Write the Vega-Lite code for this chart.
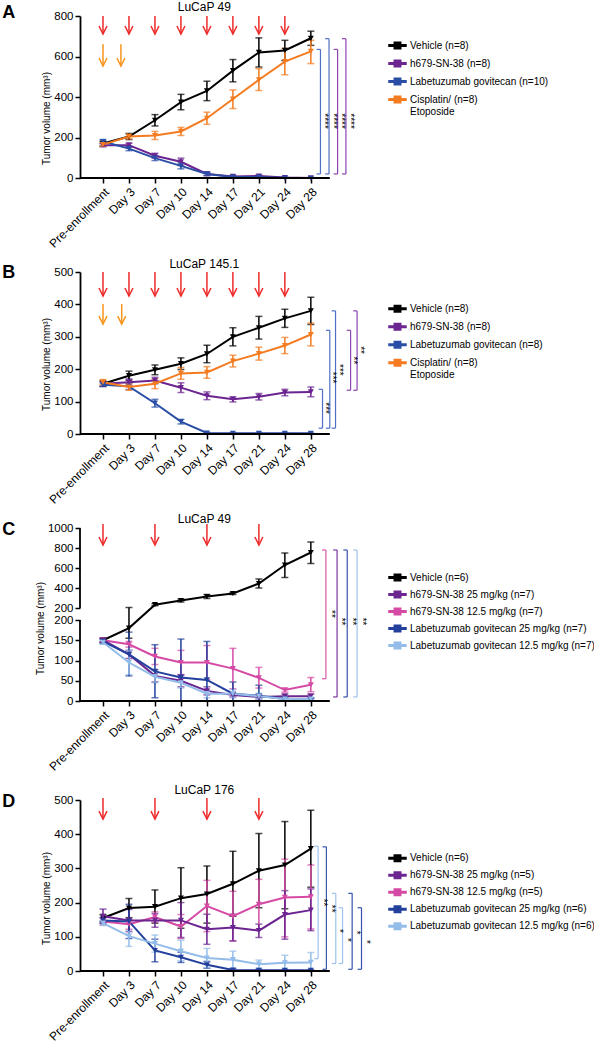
{
"$schema":"https://vega.github.io/schema/vega-lite/v6.json",
"padding":{"left":2,"top":0,"right":0,"bottom":0},
"config":{"font":"Liberation Sans","view":{"stroke":null},
 "axis":{"labelFontSize":11.5,"titleFontSize":10,"titleFontWeight":"normal","labelColor":"#000","titleColor":"#000","tickColor":"#000","domainColor":"#000","tickWidth":1.5,"domainWidth":1.8,"tickSize":5,"grid":false,"labelOverlap":false,"titlePadding":2},
 "legend":{"labelFontSize":10,"labelColor":"#000","labelLimit":300,"padding":0,"labelOffset":3,"symbolOpacity":1}},
"datasets":{
"sA":[
{"g":"Vehicle (n=8)","d":0,"m":170,"lo":158,"hi":182},{"g":"Vehicle (n=8)","d":1,"m":205,"lo":190,"hi":220},{"g":"Vehicle (n=8)","d":2,"m":285,"lo":257,"hi":313},{"g":"Vehicle (n=8)","d":3,"m":375,"lo":337,"hi":413},{"g":"Vehicle (n=8)","d":4,"m":430,"lo":382,"hi":478},{"g":"Vehicle (n=8)","d":5,"m":530,"lo":475,"hi":585},{"g":"Vehicle (n=8)","d":6,"m":620,"lo":548,"hi":692},{"g":"Vehicle (n=8)","d":7,"m":630,"lo":580,"hi":680},{"g":"Vehicle (n=8)","d":8,"m":690,"lo":655,"hi":725},
{"g":"h679-SN-38 (n=8)","d":0,"m":162,"lo":154,"hi":170},{"g":"h679-SN-38 (n=8)","d":1,"m":162,"lo":152,"hi":172},{"g":"h679-SN-38 (n=8)","d":2,"m":110,"lo":98,"hi":122},{"g":"h679-SN-38 (n=8)","d":3,"m":80,"lo":62,"hi":98},{"g":"h679-SN-38 (n=8)","d":4,"m":20,"lo":12,"hi":28},{"g":"h679-SN-38 (n=8)","d":5,"m":8,"lo":4,"hi":12},{"g":"h679-SN-38 (n=8)","d":6,"m":10,"lo":5,"hi":15},{"g":"h679-SN-38 (n=8)","d":7,"m":2,"lo":0,"hi":4},{"g":"h679-SN-38 (n=8)","d":8,"m":0,"lo":0,"hi":2},
{"g":"Labetuzumab govitecan (n=10)","d":0,"m":180,"lo":170,"hi":190},{"g":"Labetuzumab govitecan (n=10)","d":1,"m":145,"lo":135,"hi":155},{"g":"Labetuzumab govitecan (n=10)","d":2,"m":98,"lo":86,"hi":110},{"g":"Labetuzumab govitecan (n=10)","d":3,"m":60,"lo":45,"hi":75},{"g":"Labetuzumab govitecan (n=10)","d":4,"m":20,"lo":12,"hi":28},{"g":"Labetuzumab govitecan (n=10)","d":5,"m":5,"lo":2,"hi":8},{"g":"Labetuzumab govitecan (n=10)","d":6,"m":5,"lo":2,"hi":8},{"g":"Labetuzumab govitecan (n=10)","d":7,"m":0,"lo":0,"hi":2},{"g":"Labetuzumab govitecan (n=10)","d":8,"m":0,"lo":0,"hi":2},
{"g":"Cisplatin/ (n=8)|Etoposide","d":0,"m":165,"lo":157,"hi":173},{"g":"Cisplatin/ (n=8)|Etoposide","d":1,"m":205,"lo":193,"hi":217},{"g":"Cisplatin/ (n=8)|Etoposide","d":2,"m":210,"lo":190,"hi":230},{"g":"Cisplatin/ (n=8)|Etoposide","d":3,"m":230,"lo":210,"hi":250},{"g":"Cisplatin/ (n=8)|Etoposide","d":4,"m":295,"lo":265,"hi":325},{"g":"Cisplatin/ (n=8)|Etoposide","d":5,"m":390,"lo":343,"hi":435},{"g":"Cisplatin/ (n=8)|Etoposide","d":6,"m":485,"lo":432,"hi":540},{"g":"Cisplatin/ (n=8)|Etoposide","d":7,"m":575,"lo":510,"hi":640},{"g":"Cisplatin/ (n=8)|Etoposide","d":8,"m":625,"lo":565,"hi":680}],
"sB":[
{"g":"Vehicle (n=8)","d":0,"m":155,"lo":147,"hi":163},{"g":"Vehicle (n=8)","d":1,"m":180,"lo":166,"hi":194},{"g":"Vehicle (n=8)","d":2,"m":198,"lo":183,"hi":213},{"g":"Vehicle (n=8)","d":3,"m":217,"lo":199,"hi":235},{"g":"Vehicle (n=8)","d":4,"m":247,"lo":220,"hi":274},{"g":"Vehicle (n=8)","d":5,"m":300,"lo":272,"hi":328},{"g":"Vehicle (n=8)","d":6,"m":328,"lo":293,"hi":363},{"g":"Vehicle (n=8)","d":7,"m":357,"lo":329,"hi":385},{"g":"Vehicle (n=8)","d":8,"m":380,"lo":338,"hi":422},
{"g":"h679-SN-38 (n=8)","d":0,"m":155,"lo":147,"hi":163},{"g":"h679-SN-38 (n=8)","d":1,"m":160,"lo":150,"hi":170},{"g":"h679-SN-38 (n=8)","d":2,"m":165,"lo":155,"hi":175},{"g":"h679-SN-38 (n=8)","d":3,"m":143,"lo":128,"hi":158},{"g":"h679-SN-38 (n=8)","d":4,"m":118,"lo":106,"hi":130},{"g":"h679-SN-38 (n=8)","d":5,"m":107,"lo":99,"hi":115},{"g":"h679-SN-38 (n=8)","d":6,"m":115,"lo":105,"hi":125},{"g":"h679-SN-38 (n=8)","d":7,"m":128,"lo":118,"hi":138},{"g":"h679-SN-38 (n=8)","d":8,"m":130,"lo":115,"hi":145},
{"g":"Labetuzumab govitecan (n=8)","d":0,"m":152,"lo":147,"hi":157},{"g":"Labetuzumab govitecan (n=8)","d":1,"m":147,"lo":137,"hi":157},{"g":"Labetuzumab govitecan (n=8)","d":2,"m":95,"lo":83,"hi":107},{"g":"Labetuzumab govitecan (n=8)","d":3,"m":38,"lo":31,"hi":45},{"g":"Labetuzumab govitecan (n=8)","d":4,"m":3,"lo":1,"hi":5},{"g":"Labetuzumab govitecan (n=8)","d":5,"m":2,"lo":1,"hi":3},{"g":"Labetuzumab govitecan (n=8)","d":6,"m":2,"lo":1,"hi":3},{"g":"Labetuzumab govitecan (n=8)","d":7,"m":2,"lo":1,"hi":3},{"g":"Labetuzumab govitecan (n=8)","d":8,"m":2,"lo":1,"hi":3},
{"g":"Cisplatin/ (n=8)|Etoposide","d":0,"m":160,"lo":152,"hi":168},{"g":"Cisplatin/ (n=8)|Etoposide","d":1,"m":145,"lo":135,"hi":155},{"g":"Cisplatin/ (n=8)|Etoposide","d":2,"m":155,"lo":140,"hi":170},{"g":"Cisplatin/ (n=8)|Etoposide","d":3,"m":187,"lo":169,"hi":205},{"g":"Cisplatin/ (n=8)|Etoposide","d":4,"m":190,"lo":172,"hi":208},{"g":"Cisplatin/ (n=8)|Etoposide","d":5,"m":225,"lo":207,"hi":243},{"g":"Cisplatin/ (n=8)|Etoposide","d":6,"m":248,"lo":228,"hi":268},{"g":"Cisplatin/ (n=8)|Etoposide","d":7,"m":273,"lo":248,"hi":298},{"g":"Cisplatin/ (n=8)|Etoposide","d":8,"m":307,"lo":272,"hi":342}],
"sC":[
{"g":"Vehicle (n=6)","d":0,"m":150,"lo":145,"hi":155},{"g":"Vehicle (n=6)","d":1,"m":180,"lo":155,"hi":205},{"g":"Vehicle (n=6)","d":2,"m":233,"lo":223,"hi":243},{"g":"Vehicle (n=6)","d":3,"m":275,"lo":260,"hi":290},{"g":"Vehicle (n=6)","d":4,"m":315,"lo":295,"hi":335},{"g":"Vehicle (n=6)","d":5,"m":345,"lo":335,"hi":355},{"g":"Vehicle (n=6)","d":6,"m":445,"lo":400,"hi":490},{"g":"Vehicle (n=6)","d":7,"m":630,"lo":505,"hi":750},{"g":"Vehicle (n=6)","d":8,"m":755,"lo":645,"hi":860},
{"g":"h679-SN-38 12.5 mg/kg (n=7)","d":0,"m":150,"lo":145,"hi":155},{"g":"h679-SN-38 12.5 mg/kg (n=7)","d":1,"m":140,"lo":133,"hi":147},{"g":"h679-SN-38 12.5 mg/kg (n=7)","d":2,"m":110,"lo":90,"hi":130},{"g":"h679-SN-38 12.5 mg/kg (n=7)","d":3,"m":95,"lo":65,"hi":125},{"g":"h679-SN-38 12.5 mg/kg (n=7)","d":4,"m":95,"lo":53,"hi":137},{"g":"h679-SN-38 12.5 mg/kg (n=7)","d":5,"m":80,"lo":30,"hi":130},{"g":"h679-SN-38 12.5 mg/kg (n=7)","d":6,"m":57,"lo":32,"hi":83},{"g":"h679-SN-38 12.5 mg/kg (n=7)","d":7,"m":27,"lo":22,"hi":32},{"g":"h679-SN-38 12.5 mg/kg (n=7)","d":8,"m":40,"lo":23,"hi":58},
{"g":"h679-SN-38 25 mg/kg (n=7)","d":0,"m":150,"lo":145,"hi":155},{"g":"h679-SN-38 25 mg/kg (n=7)","d":1,"m":115,"lo":105,"hi":125},{"g":"h679-SN-38 25 mg/kg (n=7)","d":2,"m":62,"lo":47,"hi":77},{"g":"h679-SN-38 25 mg/kg (n=7)","d":3,"m":50,"lo":35,"hi":65},{"g":"h679-SN-38 25 mg/kg (n=7)","d":4,"m":25,"lo":15,"hi":35},{"g":"h679-SN-38 25 mg/kg (n=7)","d":5,"m":15,"lo":10,"hi":20},{"g":"h679-SN-38 25 mg/kg (n=7)","d":6,"m":10,"lo":5,"hi":15},{"g":"h679-SN-38 25 mg/kg (n=7)","d":7,"m":12,"lo":7,"hi":17},{"g":"h679-SN-38 25 mg/kg (n=7)","d":8,"m":12,"lo":7,"hi":17},
{"g":"Labetuzumab govitecan 25 mg/kg (n=7)","d":0,"m":147,"lo":142,"hi":152},{"g":"Labetuzumab govitecan 25 mg/kg (n=7)","d":1,"m":115,"lo":62,"hi":170},{"g":"Labetuzumab govitecan 25 mg/kg (n=7)","d":2,"m":73,"lo":8,"hi":139},{"g":"Labetuzumab govitecan 25 mg/kg (n=7)","d":3,"m":58,"lo":0,"hi":153},{"g":"Labetuzumab govitecan 25 mg/kg (n=7)","d":4,"m":52,"lo":0,"hi":147},{"g":"Labetuzumab govitecan 25 mg/kg (n=7)","d":5,"m":18,"lo":0,"hi":47},{"g":"Labetuzumab govitecan 25 mg/kg (n=7)","d":6,"m":13,"lo":0,"hi":39},{"g":"Labetuzumab govitecan 25 mg/kg (n=7)","d":7,"m":5,"lo":0,"hi":10},{"g":"Labetuzumab govitecan 25 mg/kg (n=7)","d":8,"m":3,"lo":0,"hi":6},
{"g":"Labetuzumab govitecan 12.5 mg/kg (n=7)","d":0,"m":145,"lo":140,"hi":150},{"g":"Labetuzumab govitecan 12.5 mg/kg (n=7)","d":1,"m":95,"lo":65,"hi":125},{"g":"Labetuzumab govitecan 12.5 mg/kg (n=7)","d":2,"m":60,"lo":45,"hi":75},{"g":"Labetuzumab govitecan 12.5 mg/kg (n=7)","d":3,"m":45,"lo":32,"hi":58},{"g":"Labetuzumab govitecan 12.5 mg/kg (n=7)","d":4,"m":18,"lo":8,"hi":28},{"g":"Labetuzumab govitecan 12.5 mg/kg (n=7)","d":5,"m":18,"lo":8,"hi":28},{"g":"Labetuzumab govitecan 12.5 mg/kg (n=7)","d":6,"m":12,"lo":5,"hi":19},{"g":"Labetuzumab govitecan 12.5 mg/kg (n=7)","d":7,"m":5,"lo":2,"hi":8},{"g":"Labetuzumab govitecan 12.5 mg/kg (n=7)","d":8,"m":5,"lo":2,"hi":8}],
"sD":[
{"g":"Vehicle (n=6)","d":0,"m":155,"lo":145,"hi":165},{"g":"Vehicle (n=6)","d":1,"m":184,"lo":156,"hi":212},{"g":"Vehicle (n=6)","d":2,"m":188,"lo":140,"hi":237},{"g":"Vehicle (n=6)","d":3,"m":213,"lo":125,"hi":302},{"g":"Vehicle (n=6)","d":4,"m":225,"lo":140,"hi":307},{"g":"Vehicle (n=6)","d":5,"m":255,"lo":160,"hi":350},{"g":"Vehicle (n=6)","d":6,"m":293,"lo":185,"hi":402},{"g":"Vehicle (n=6)","d":7,"m":310,"lo":182,"hi":437},{"g":"Vehicle (n=6)","d":8,"m":358,"lo":245,"hi":470},
{"g":"h679-SN-38 12.5 mg/kg (n=5)","d":0,"m":145,"lo":135,"hi":155},{"g":"h679-SN-38 12.5 mg/kg (n=5)","d":1,"m":137,"lo":122,"hi":152},{"g":"h679-SN-38 12.5 mg/kg (n=5)","d":2,"m":158,"lo":143,"hi":173},{"g":"h679-SN-38 12.5 mg/kg (n=5)","d":3,"m":130,"lo":95,"hi":165},{"g":"h679-SN-38 12.5 mg/kg (n=5)","d":4,"m":190,"lo":115,"hi":265},{"g":"h679-SN-38 12.5 mg/kg (n=5)","d":5,"m":160,"lo":88,"hi":233},{"g":"h679-SN-38 12.5 mg/kg (n=5)","d":6,"m":195,"lo":122,"hi":268},{"g":"h679-SN-38 12.5 mg/kg (n=5)","d":7,"m":215,"lo":100,"hi":327},{"g":"h679-SN-38 12.5 mg/kg (n=5)","d":8,"m":217,"lo":123,"hi":310},
{"g":"h679-SN-38 25 mg/kg (n=5)","d":0,"m":160,"lo":140,"hi":181},{"g":"h679-SN-38 25 mg/kg (n=5)","d":1,"m":148,"lo":115,"hi":180},{"g":"h679-SN-38 25 mg/kg (n=5)","d":2,"m":148,"lo":128,"hi":168},{"g":"h679-SN-38 25 mg/kg (n=5)","d":3,"m":148,"lo":98,"hi":200},{"g":"h679-SN-38 25 mg/kg (n=5)","d":4,"m":122,"lo":78,"hi":166},{"g":"h679-SN-38 25 mg/kg (n=5)","d":5,"m":127,"lo":88,"hi":166},{"g":"h679-SN-38 25 mg/kg (n=5)","d":6,"m":118,"lo":98,"hi":137},{"g":"h679-SN-38 25 mg/kg (n=5)","d":7,"m":165,"lo":93,"hi":235},{"g":"h679-SN-38 25 mg/kg (n=5)","d":8,"m":178,"lo":118,"hi":240},
{"g":"Labetuzumab govitecan 25 mg/kg (n=6)","d":0,"m":148,"lo":140,"hi":156},{"g":"Labetuzumab govitecan 25 mg/kg (n=6)","d":1,"m":145,"lo":95,"hi":195},{"g":"Labetuzumab govitecan 25 mg/kg (n=6)","d":2,"m":60,"lo":27,"hi":93},{"g":"Labetuzumab govitecan 25 mg/kg (n=6)","d":3,"m":40,"lo":25,"hi":55},{"g":"Labetuzumab govitecan 25 mg/kg (n=6)","d":4,"m":18,"lo":8,"hi":28},{"g":"Labetuzumab govitecan 25 mg/kg (n=6)","d":5,"m":3,"lo":0,"hi":6},{"g":"Labetuzumab govitecan 25 mg/kg (n=6)","d":6,"m":2,"lo":0,"hi":4},{"g":"Labetuzumab govitecan 25 mg/kg (n=6)","d":7,"m":2,"lo":0,"hi":4},{"g":"Labetuzumab govitecan 25 mg/kg (n=6)","d":8,"m":2,"lo":0,"hi":4},
{"g":"Labetuzumab govitecan 12.5 mg/kg (n=6)","d":0,"m":140,"lo":133,"hi":147},{"g":"Labetuzumab govitecan 12.5 mg/kg (n=6)","d":1,"m":102,"lo":72,"hi":118},{"g":"Labetuzumab govitecan 12.5 mg/kg (n=6)","d":2,"m":80,"lo":55,"hi":105},{"g":"Labetuzumab govitecan 12.5 mg/kg (n=6)","d":3,"m":58,"lo":30,"hi":90},{"g":"Labetuzumab govitecan 12.5 mg/kg (n=6)","d":4,"m":38,"lo":10,"hi":66},{"g":"Labetuzumab govitecan 12.5 mg/kg (n=6)","d":5,"m":33,"lo":8,"hi":58},{"g":"Labetuzumab govitecan 12.5 mg/kg (n=6)","d":6,"m":20,"lo":8,"hi":32},{"g":"Labetuzumab govitecan 12.5 mg/kg (n=6)","d":7,"m":24,"lo":4,"hi":46},{"g":"Labetuzumab govitecan 12.5 mg/kg (n=6)","d":8,"m":25,"lo":0,"hi":54}],
"bA":[{"x":8.37,"xl":8.22,"top":635,"bot":20,"vs":"Labet","lx":8.5,"ly":281,"stars":"****"},{"x":8.7,"xl":8.55,"top":688,"bot":20,"vs":"Labet","lx":8.86,"ly":281,"stars":"****"},{"x":9.03,"xl":8.88,"top":635,"bot":20,"vs":"h679","lx":9.18,"ly":281,"stars":"****"},{"x":9.35,"xl":9.2,"top":688,"bot":20,"vs":"h679","lx":9.5,"ly":281,"stars":"****"}],
"bB":[{"x":8.45,"xl":8.3,"top":138,"bot":18,"vs":"Labet","lx":8.54,"ly":80,"stars":"***"},{"x":8.73,"xl":8.58,"top":320,"bot":18,"vs":"Labet","lx":8.82,"ly":174,"stars":"***"},{"x":8.95,"xl":8.8,"top":380,"bot":18,"vs":"Labet","lx":9.08,"ly":198,"stars":"***"},{"x":9.53,"xl":9.38,"top":320,"bot":135,"vs":"h679","lx":9.63,"ly":227,"stars":"**"},{"x":9.78,"xl":9.63,"top":380,"bot":135,"vs":"h679","lx":9.91,"ly":259,"stars":"**"}],
"bC":[{"x":8.58,"xl":8.43,"top":780,"bot":55,"vs":"h679 12.5","lx":8.77,"ly":200.00005,"stars":"**"},{"x":9.01,"xl":8.86,"top":780,"bot":10,"vs":"h679 25","lx":9.18,"ly":196,"stars":"**"},{"x":9.4,"xl":9.25,"top":780,"bot":10,"vs":"Labet 25","lx":9.57,"ly":196,"stars":"**"},{"x":9.78,"xl":9.63,"top":780,"bot":10,"vs":"Labet 12.5","lx":9.95,"ly":196,"stars":"**"}],
"bD":[{"x":8.28,"xl":8.13,"top":365,"bot":36,"vs":"Labet 12.5","lx":8.45,"ly":200,"stars":"**"},{"x":8.6,"xl":8.45,"top":363,"bot":5,"vs":"Labet 25","lx":8.77,"ly":182,"stars":"**"},{"x":8.96,"xl":8.81,"top":227,"bot":22,"vs":"Labet 12.5","lx":9.09,"ly":117,"stars":"*"},{"x":9.22,"xl":9.07,"top":185,"bot":22,"vs":"Labet 12.5","lx":9.4,"ly":91,"stars":"*"},{"x":9.59,"xl":9.44,"top":227,"bot":5,"vs":"Labet 25","lx":9.73,"ly":112,"stars":"*"},{"x":9.95,"xl":9.8,"top":185,"bot":5,"vs":"Labet 25","lx":10.12,"ly":85,"stars":"*"}],
"aA":[{"d":0,"top":800,"tip":711,"drug":"ADC"},{"d":1,"top":800,"tip":711,"drug":"ADC"},{"d":2,"top":800,"tip":711,"drug":"ADC"},{"d":3,"top":800,"tip":711,"drug":"ADC"},{"d":4,"top":800,"tip":711,"drug":"ADC"},{"d":5,"top":800,"tip":711,"drug":"ADC"},{"d":6,"top":800,"tip":711,"drug":"ADC"},{"d":7,"top":800,"tip":711,"drug":"ADC"},{"d":0,"top":660,"tip":553,"drug":"Cis"},{"d":0.69,"top":660,"tip":553,"drug":"Cis"}],
"aB":[{"d":0,"top":500,"tip":426,"drug":"ADC"},{"d":1,"top":500,"tip":426,"drug":"ADC"},{"d":2,"top":500,"tip":426,"drug":"ADC"},{"d":3,"top":500,"tip":426,"drug":"ADC"},{"d":4,"top":500,"tip":426,"drug":"ADC"},{"d":5,"top":500,"tip":426,"drug":"ADC"},{"d":6,"top":500,"tip":426,"drug":"ADC"},{"d":7,"top":500,"tip":426,"drug":"ADC"},{"d":0,"top":401,"tip":339,"drug":"Cis"},{"d":0.72,"top":401,"tip":339,"drug":"Cis"}],
"aC":[{"d":0,"top":1040,"tip":830,"drug":"ADC"},{"d":2,"top":1040,"tip":830,"drug":"ADC"},{"d":4,"top":1040,"tip":830,"drug":"ADC"},{"d":6,"top":1040,"tip":830,"drug":"ADC"}],
"aD":[{"d":0,"top":506,"tip":444,"drug":"ADC"},{"d":2,"top":506,"tip":444,"drug":"ADC"},{"d":4,"top":506,"tip":444,"drug":"ADC"},{"d":6,"top":506,"tip":444,"drug":"ADC"}]
},
"spacing":94,
"bounds":"flush",
"resolve":{"scale":{"x":"independent","y":"independent","color":"independent","stroke":"independent"},"legend":{"color":"independent"},"axis":{"x":"independent","y":"independent"}},
"vconcat":[
{"width":288,"height":162,"layer":[
 {"data":{"name":"bA"},"mark":{"type":"rule","strokeWidth":1.2},"encoding":{
   "x":{"field":"x","type":"quantitative","scale":{"domain":[-0.885,10.2],"nice":false,"zero":false},"axis":{"values":[0,1,2,3,4,5,6,7,8],"tickCount":50,"labelExpr":"['Pre-enrollment','Day 3','Day 7','Day 10','Day 14','Day 17','Day 21','Day 24','Day 28'][datum.value]","labelAngle":-45,"domain":false,"title":null,"labelPadding":3,"labelOverlap":false,"labelFontSize":12}},
   "y":{"field":"top","type":"quantitative","scale":{"domain":[0,800],"nice":false,"zero":false},"axis":{"values":[0,200,400,600,800],"tickCount":50,"title":"Tumor volume (mm³)","titleY":102,"labelOverlap":false}},
   "y2":{"field":"bot"},
   "stroke":{"field":"vs","type":"nominal","scale":{"domain":["Labet","h679","ADC","Cis"],"range":["#4f6fc6","#8b44b0","#ee2a2a","#f7941d"]},"legend":null}}},
 {"data":{"name":"bA"},"mark":{"type":"rule","strokeWidth":1.2},"encoding":{"x":{"field":"xl","type":"quantitative"},"x2":{"field":"x"},"y":{"field":"top","type":"quantitative"},"stroke":{"field":"vs","type":"nominal","legend":null}}},
 {"data":{"name":"bA"},"mark":{"type":"rule","strokeWidth":1.2},"encoding":{"x":{"field":"xl","type":"quantitative"},"x2":{"field":"x"},"y":{"field":"bot","type":"quantitative"},"stroke":{"field":"vs","type":"nominal","legend":null}}},
 {"data":{"name":"bA"},"mark":{"type":"text","angle":90,"fontSize":10,"color":"#000","align":"center","baseline":"middle"},"encoding":{"x":{"field":"lx","type":"quantitative"},"y":{"field":"ly","type":"quantitative"},"text":{"field":"stars"}}},
 {"data":{"name":"aA"},"mark":{"type":"rule","strokeWidth":1.5},"encoding":{"x":{"field":"d","type":"quantitative"},"y":{"field":"top","type":"quantitative"},"y2":{"field":"tip"},"stroke":{"field":"drug","type":"nominal","legend":null}}},
 {"data":{"name":"aA"},"mark":{"type":"point","shape":"M-1,-2L0,0L1,-2","size":64,"filled":false,"strokeWidth":1.5,"opacity":1},"encoding":{"x":{"field":"d","type":"quantitative"},"y":{"field":"tip","type":"quantitative"},"stroke":{"field":"drug","type":"nominal","legend":null}}},
 {"data":{"name":"sA"},"mark":{"type":"errorbar","ticks":true,"size":7,"thickness":1.5},"encoding":{"x":{"field":"d","type":"quantitative","title":null},"y":{"field":"lo","type":"quantitative","title":"Tumor volume (mm³)"},"y2":{"field":"hi"},"color":{"field":"g","type":"nominal","scale":{"domain":["Vehicle (n=8)","h679-SN-38 (n=8)","Labetuzumab govitecan (n=10)","Cisplatin/ (n=8)|Etoposide"],"range":["#000000","#6b2490","#2a4ea6","#f47b20"]}}}},
 {"data":{"name":"sA"},"mark":{"type":"line","strokeWidth":2},"encoding":{"x":{"field":"d","type":"quantitative"},"y":{"field":"m","type":"quantitative"},"color":{"field":"g","type":"nominal"}}},
 {"data":{"name":"sA"},"mark":{"type":"point","shape":"triangle-down","size":36,"filled":true,"opacity":1},"encoding":{"x":{"field":"d","type":"quantitative"},"y":{"field":"m","type":"quantitative"},"color":{"field":"g","type":"nominal","legend":{"orient":"none","legendX":308,"legendY":20,"title":null,"symbolType":"M-1,-0.09H1V0.09H-1Z M-0.38,-0.38H0.38V0.38H-0.38Z","symbolSize":289,"rowPadding":2,"labelExpr":"split(datum.label,'|')"}}}},
 {"data":{"values":[{}]},"mark":{"type":"rule","strokeWidth":1.8,"color":"#000"},"encoding":{"x":{"datum":-0.885,"type":"quantitative"},"x2":{"datum":8.73},"y":{"datum":0,"type":"quantitative"}}},
 {"data":{"values":[{}]},"mark":{"type":"text","fontSize":12,"align":"center","baseline":"alphabetic","color":"#000"},"encoding":{"x":{"datum":3.9,"type":"quantitative"},"y":{"datum":825,"type":"quantitative"},"text":{"value":"LuCaP 49"}}},
 {"data":{"values":[{}]},"mark":{"type":"text","fontSize":18,"fontWeight":"bold","align":"left","baseline":"alphabetic","color":"#000"},"encoding":{"x":{"datum":-3.88,"type":"quantitative"},"y":{"datum":790,"type":"quantitative"},"text":{"value":"A"}}}
]},
{"width":288,"height":162,"layer":[
 {"data":{"name":"bB"},"mark":{"type":"rule","strokeWidth":1.2},"encoding":{
   "x":{"field":"x","type":"quantitative","scale":{"domain":[-0.885,10.2],"nice":false,"zero":false},"axis":{"values":[0,1,2,3,4,5,6,7,8],"tickCount":50,"labelExpr":"['Pre-enrollment','Day 3','Day 7','Day 10','Day 14','Day 17','Day 21','Day 24','Day 28'][datum.value]","labelAngle":-45,"domain":false,"title":null,"labelPadding":3,"labelOverlap":false,"labelFontSize":12}},
   "y":{"field":"top","type":"quantitative","scale":{"domain":[0,500],"nice":false,"zero":false},"axis":{"values":[0,100,200,300,400,500],"tickCount":50,"title":"Tumor volume (mm³)","titleY":92,"labelOverlap":false}},
   "y2":{"field":"bot"},
   "stroke":{"field":"vs","type":"nominal","scale":{"domain":["Labet","h679","ADC","Cis"],"range":["#4f6fc6","#8b44b0","#ee2a2a","#f7941d"]},"legend":null}}},
 {"data":{"name":"bB"},"mark":{"type":"rule","strokeWidth":1.2},"encoding":{"x":{"field":"xl","type":"quantitative"},"x2":{"field":"x"},"y":{"field":"top","type":"quantitative"},"stroke":{"field":"vs","type":"nominal","legend":null}}},
 {"data":{"name":"bB"},"mark":{"type":"rule","strokeWidth":1.2},"encoding":{"x":{"field":"xl","type":"quantitative"},"x2":{"field":"x"},"y":{"field":"bot","type":"quantitative"},"stroke":{"field":"vs","type":"nominal","legend":null}}},
 {"data":{"name":"bB"},"mark":{"type":"text","angle":90,"fontSize":10,"color":"#000","align":"center","baseline":"middle"},"encoding":{"x":{"field":"lx","type":"quantitative"},"y":{"field":"ly","type":"quantitative"},"text":{"field":"stars"}}},
 {"data":{"name":"aB"},"mark":{"type":"rule","strokeWidth":1.5},"encoding":{"x":{"field":"d","type":"quantitative"},"y":{"field":"top","type":"quantitative"},"y2":{"field":"tip"},"stroke":{"field":"drug","type":"nominal","legend":null}}},
 {"data":{"name":"aB"},"mark":{"type":"point","shape":"M-1,-2L0,0L1,-2","size":64,"filled":false,"strokeWidth":1.5,"opacity":1},"encoding":{"x":{"field":"d","type":"quantitative"},"y":{"field":"tip","type":"quantitative"},"stroke":{"field":"drug","type":"nominal","legend":null}}},
 {"data":{"name":"sB"},"mark":{"type":"errorbar","ticks":true,"size":7,"thickness":1.5},"encoding":{"x":{"field":"d","type":"quantitative","title":null},"y":{"field":"lo","type":"quantitative","title":"Tumor volume (mm³)"},"y2":{"field":"hi"},"color":{"field":"g","type":"nominal","scale":{"domain":["Vehicle (n=8)","h679-SN-38 (n=8)","Labetuzumab govitecan (n=8)","Cisplatin/ (n=8)|Etoposide"],"range":["#000000","#6b2490","#2a4ea6","#f47b20"]}}}},
 {"data":{"name":"sB"},"mark":{"type":"line","strokeWidth":2},"encoding":{"x":{"field":"d","type":"quantitative"},"y":{"field":"m","type":"quantitative"},"color":{"field":"g","type":"nominal"}}},
 {"data":{"name":"sB"},"mark":{"type":"point","shape":"triangle-down","size":36,"filled":true,"opacity":1},"encoding":{"x":{"field":"d","type":"quantitative"},"y":{"field":"m","type":"quantitative"},"color":{"field":"g","type":"nominal","legend":{"orient":"none","legendX":308,"legendY":27.3,"title":null,"symbolType":"M-1,-0.09H1V0.09H-1Z M-0.38,-0.38H0.38V0.38H-0.38Z","symbolSize":289,"rowPadding":2,"labelExpr":"split(datum.label,'|')"}}}},
 {"data":{"values":[{}]},"mark":{"type":"rule","strokeWidth":1.8,"color":"#000"},"encoding":{"x":{"datum":-0.885,"type":"quantitative"},"x2":{"datum":8.73},"y":{"datum":0,"type":"quantitative"}}},
 {"data":{"values":[{}]},"mark":{"type":"text","fontSize":12,"align":"center","baseline":"alphabetic","color":"#000"},"encoding":{"x":{"datum":3.9,"type":"quantitative"},"y":{"datum":512,"type":"quantitative"},"text":{"value":"LuCaP 145.1"}}},
 {"data":{"values":[{}]},"mark":{"type":"text","fontSize":18,"fontWeight":"bold","align":"left","baseline":"alphabetic","color":"#000"},"encoding":{"x":{"datum":-3.88,"type":"quantitative"},"y":{"datum":482,"type":"quantitative"},"text":{"value":"B"}}}
]},
{"width":288,"height":173,"layer":[
 {"data":{"name":"bC"},"mark":{"type":"rule","strokeWidth":1.2},"encoding":{
   "x":{"field":"x","type":"quantitative","scale":{"domain":[-0.885,10.2],"nice":false,"zero":false},"axis":{"values":[0,1,2,3,4,5,6,7,8],"tickCount":50,"labelExpr":"['Pre-enrollment','Day 3','Day 7','Day 10','Day 14','Day 17','Day 21','Day 24','Day 28'][datum.value]","labelAngle":-45,"domain":false,"title":null,"labelPadding":3,"labelOverlap":false,"labelFontSize":12}},
   "y":{"field":"top","type":"quantitative","scale":{"domain":[0,200,200.0001,1000],"range":[173,92,80,0],"nice":false,"zero":false},"axis":{"values":[0,50,100,150,200,200.0001,400,600,800,1000],"tickCount":50,"format":"d","domain":false,"title":"Tumor volume (mm³)","titleY":100,"labelOverlap":false}},
   "y2":{"field":"bot"},
   "stroke":{"field":"vs","type":"nominal","scale":{"domain":["h679 12.5","h679 25","Labet 25","Labet 12.5","ADC"],"range":["#d957a8","#7d35a0","#3553ad","#9fc3ec","#ee2a2a"]},"legend":null}}},
 {"data":{"name":"bC"},"mark":{"type":"rule","strokeWidth":1.2},"encoding":{"x":{"field":"xl","type":"quantitative"},"x2":{"field":"x"},"y":{"field":"top","type":"quantitative"},"stroke":{"field":"vs","type":"nominal","legend":null}}},
 {"data":{"name":"bC"},"mark":{"type":"rule","strokeWidth":1.2},"encoding":{"x":{"field":"xl","type":"quantitative"},"x2":{"field":"x"},"y":{"field":"bot","type":"quantitative"},"stroke":{"field":"vs","type":"nominal","legend":null}}},
 {"data":{"name":"bC"},"mark":{"type":"text","angle":90,"fontSize":10,"color":"#000","align":"center","baseline":"middle"},"encoding":{"x":{"field":"lx","type":"quantitative"},"y":{"field":"ly","type":"quantitative"},"text":{"field":"stars"}}},
 {"data":{"name":"aC"},"mark":{"type":"rule","strokeWidth":1.5},"encoding":{"x":{"field":"d","type":"quantitative"},"y":{"field":"top","type":"quantitative"},"y2":{"field":"tip"},"stroke":{"field":"drug","type":"nominal","legend":null}}},
 {"data":{"name":"aC"},"mark":{"type":"point","shape":"M-1,-2L0,0L1,-2","size":64,"filled":false,"strokeWidth":1.5,"opacity":1},"encoding":{"x":{"field":"d","type":"quantitative"},"y":{"field":"tip","type":"quantitative"},"stroke":{"field":"drug","type":"nominal","legend":null}}},
 {"data":{"name":"sC"},"mark":{"type":"errorbar","ticks":true,"size":7,"thickness":1.5},"encoding":{"x":{"field":"d","type":"quantitative","title":null},"y":{"field":"lo","type":"quantitative","title":"Tumor volume (mm³)"},"y2":{"field":"hi"},"color":{"field":"g","type":"nominal","scale":{"domain":["Vehicle (n=6)","h679-SN-38 25 mg/kg (n=7)","h679-SN-38 12.5 mg/kg (n=7)","Labetuzumab govitecan 25 mg/kg (n=7)","Labetuzumab govitecan 12.5 mg/kg (n=7)"],"range":["#000000","#6b2490","#d54aa5","#22409c","#93bce9"]}}}},
 {"data":{"name":"sC"},"mark":{"type":"line","strokeWidth":2},"encoding":{"x":{"field":"d","type":"quantitative"},"y":{"field":"m","type":"quantitative"},"color":{"field":"g","type":"nominal"}}},
 {"data":{"name":"sC"},"mark":{"type":"point","shape":"triangle-down","size":36,"filled":true,"opacity":1},"encoding":{"x":{"field":"d","type":"quantitative"},"y":{"field":"m","type":"quantitative"},"color":{"field":"g","type":"nominal","legend":{"orient":"none","legendX":308,"legendY":40,"title":null,"symbolType":"M-1,-0.09H1V0.09H-1Z M-0.38,-0.38H0.38V0.38H-0.38Z","symbolSize":289,"rowPadding":1}}}},
 {"data":{"values":[{}]},"mark":{"type":"rule","strokeWidth":1.8,"color":"#000"},"encoding":{"x":{"datum":-0.885,"type":"quantitative"},"x2":{"datum":8.73},"y":{"datum":0,"type":"quantitative"}}},
 {"data":{"values":[{}]},"mark":{"type":"rule","strokeWidth":1.8,"color":"#000"},"encoding":{"x":{"datum":-0.885,"type":"quantitative"},"y":{"datum":0,"type":"quantitative"},"y2":{"datum":200}}},
 {"data":{"values":[{}]},"mark":{"type":"rule","strokeWidth":1.8,"color":"#000"},"encoding":{"x":{"datum":-0.885,"type":"quantitative"},"y":{"datum":200.0001,"type":"quantitative"},"y2":{"datum":1000}}},
 {"data":{"values":[{}]},"mark":{"type":"text","fontSize":12,"align":"center","baseline":"alphabetic","color":"#000"},"encoding":{"x":{"datum":3.9,"type":"quantitative"},"y":{"datum":1050,"type":"quantitative"},"text":{"value":"LuCaP 49"}}},
 {"data":{"values":[{}]},"mark":{"type":"text","fontSize":18,"fontWeight":"bold","align":"left","baseline":"alphabetic","color":"#000"},"encoding":{"x":{"datum":-3.88,"type":"quantitative"},"y":{"datum":930,"type":"quantitative"},"text":{"value":"C"}}}
]},
{"width":288,"height":176,"layer":[
 {"data":{"name":"bD"},"mark":{"type":"rule","strokeWidth":1.2},"encoding":{
   "x":{"field":"x","type":"quantitative","scale":{"domain":[-0.885,10.2],"nice":false,"zero":false},"axis":{"values":[0,1,2,3,4,5,6,7,8],"tickCount":50,"labelExpr":"['Pre-enrollment','Day 3','Day 7','Day 10','Day 14','Day 17','Day 21','Day 24','Day 28'][datum.value]","labelAngle":-45,"domain":false,"title":null,"labelPadding":3,"labelOverlap":false,"labelFontSize":12}},
   "y":{"field":"top","type":"quantitative","scale":{"domain":[0,500],"range":[176,5],"nice":false,"zero":false},"axis":{"values":[0,100,200,300,400,500],"tickCount":50,"title":"Tumor volume (mm³)","titleY":103,"labelOverlap":false}},
   "y2":{"field":"bot"},
   "stroke":{"field":"vs","type":"nominal","scale":{"domain":["Labet 12.5","Labet 25","ADC"],"range":["#9fc3ec","#3553ad","#ee2a2a"]},"legend":null}}},
 {"data":{"name":"bD"},"mark":{"type":"rule","strokeWidth":1.2},"encoding":{"x":{"field":"xl","type":"quantitative"},"x2":{"field":"x"},"y":{"field":"top","type":"quantitative"},"stroke":{"field":"vs","type":"nominal","legend":null}}},
 {"data":{"name":"bD"},"mark":{"type":"rule","strokeWidth":1.2},"encoding":{"x":{"field":"xl","type":"quantitative"},"x2":{"field":"x"},"y":{"field":"bot","type":"quantitative"},"stroke":{"field":"vs","type":"nominal","legend":null}}},
 {"data":{"name":"bD"},"mark":{"type":"text","angle":90,"fontSize":10,"color":"#000","align":"center","baseline":"middle"},"encoding":{"x":{"field":"lx","type":"quantitative"},"y":{"field":"ly","type":"quantitative"},"text":{"field":"stars"}}},
 {"data":{"name":"aD"},"mark":{"type":"rule","strokeWidth":1.5},"encoding":{"x":{"field":"d","type":"quantitative"},"y":{"field":"top","type":"quantitative"},"y2":{"field":"tip"},"stroke":{"field":"drug","type":"nominal","legend":null}}},
 {"data":{"name":"aD"},"mark":{"type":"point","shape":"M-1,-2L0,0L1,-2","size":64,"filled":false,"strokeWidth":1.5,"opacity":1},"encoding":{"x":{"field":"d","type":"quantitative"},"y":{"field":"tip","type":"quantitative"},"stroke":{"field":"drug","type":"nominal","legend":null}}},
 {"data":{"name":"sD"},"mark":{"type":"errorbar","ticks":true,"size":7,"thickness":1.5},"encoding":{"x":{"field":"d","type":"quantitative","title":null},"y":{"field":"lo","type":"quantitative","title":"Tumor volume (mm³)"},"y2":{"field":"hi"},"color":{"field":"g","type":"nominal","scale":{"domain":["Vehicle (n=6)","h679-SN-38 25 mg/kg (n=5)","h679-SN-38 12.5 mg/kg (n=5)","Labetuzumab govitecan 25 mg/kg (n=6)","Labetuzumab govitecan 12.5 mg/kg (n=6)"],"range":["#000000","#6b2490","#d54aa5","#22409c","#93bce9"]}}}},
 {"data":{"name":"sD"},"mark":{"type":"line","strokeWidth":2},"encoding":{"x":{"field":"d","type":"quantitative"},"y":{"field":"m","type":"quantitative"},"color":{"field":"g","type":"nominal"}}},
 {"data":{"name":"sD"},"mark":{"type":"point","shape":"triangle-down","size":36,"filled":true,"opacity":1},"encoding":{"x":{"field":"d","type":"quantitative"},"y":{"field":"m","type":"quantitative"},"color":{"field":"g","type":"nominal","legend":{"orient":"none","legendX":308,"legendY":53.7,"title":null,"symbolType":"M-1,-0.09H1V0.09H-1Z M-0.38,-0.38H0.38V0.38H-0.38Z","symbolSize":289,"rowPadding":1}}}},
 {"data":{"values":[{}]},"mark":{"type":"rule","strokeWidth":1.8,"color":"#000"},"encoding":{"x":{"datum":-0.885,"type":"quantitative"},"x2":{"datum":8.73},"y":{"datum":0,"type":"quantitative"}}},
 {"data":{"values":[{}]},"mark":{"type":"text","fontSize":12,"align":"center","baseline":"alphabetic","color":"#000"},"encoding":{"x":{"datum":3.9,"type":"quantitative"},"y":{"datum":518,"type":"quantitative"},"text":{"value":"LuCaP 176"}}},
 {"data":{"values":[{}]},"mark":{"type":"text","fontSize":18,"fontWeight":"bold","align":"left","baseline":"alphabetic","color":"#000"},"encoding":{"x":{"datum":-3.88,"type":"quantitative"},"y":{"datum":480,"type":"quantitative"},"text":{"value":"D"}}}
]}
]
}
